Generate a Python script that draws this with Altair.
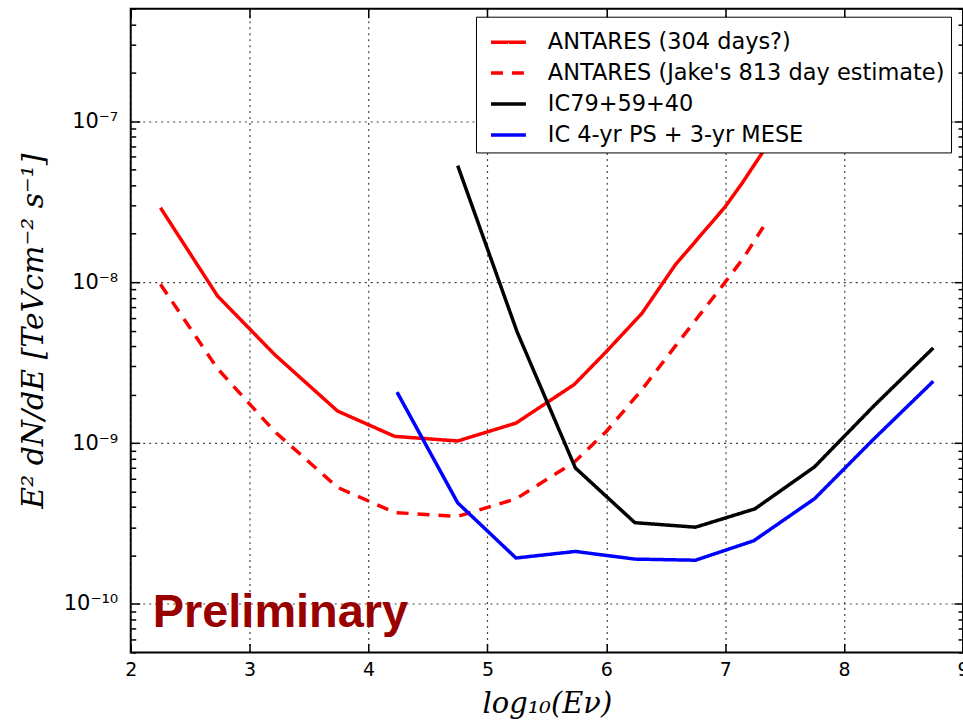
import altair as alt
import pandas as pd

# ---------------- data ----------------
series_names = ["ANTARES (304 days?)", "ANTARES (Jake's 813 day estimate)",
                "IC79+59+40", "IC 4-yr PS + 3-yr MESE"]
series_colors = ["#ff0000", "#ff0000", "#000000", "#0000ff"]
series_dash = [[1, 0], [12, 9], [1, 0], [1, 0]]

antares_x = [2.25, 2.73, 3.21, 3.74, 4.22, 4.75, 5.24, 5.73, 6.0, 6.3, 6.58, 7.0, 7.15, 7.32, 7.5]
antares_y = [2.9e-8, 8.2e-9, 3.55e-9, 1.58e-9, 1.1e-9, 1.03e-9, 1.33e-9, 2.31e-9, 3.7e-9,
             6.4e-9, 1.28e-8, 2.94e-8, 4.2e-8, 6.5e-8, 1.1e-7]

jake_x = [2.25, 2.73, 3.21, 3.74, 4.22, 4.75, 5.24, 5.73, 6.0, 6.3, 6.58, 7.0, 7.15, 7.32]
jake_y = [9.7e-9, 2.9e-9, 1.18e-9, 5.3e-10, 3.7e-10, 3.5e-10, 4.5e-10, 7.6e-10, 1.18e-9,
          2.15e-9, 4.0e-9, 1.0e-8, 1.4e-8, 2.2e-8]

ic79_x = [4.75, 5.25, 5.74, 6.24, 6.75, 7.25, 7.75, 8.25, 8.75]
ic79_y = [5.3e-8, 4.9e-9, 7.0e-10, 3.2e-10, 3.0e-10, 3.9e-10, 7.1e-10, 1.7e-9, 3.9e-9]

ic4_x = [4.24, 4.75, 5.24, 5.74, 6.24, 6.75, 7.24, 7.75, 8.25, 8.75]
ic4_y = [2.07e-9, 4.25e-10, 1.93e-10, 2.12e-10, 1.9e-10, 1.87e-10, 2.47e-10, 4.5e-10, 1.06e-9, 2.42e-9]

x_ticks = [2, 3, 4, 5, 6, 7, 8, 9]
y_decades = [-10, -9, -8, -7]
y_decade_labels = ["10⁻¹⁰", "10⁻⁹", "10⁻⁸", "10⁻⁷"]
y_minor_mult = [1, 2, 3, 4, 5, 6, 7, 8, 9]
y_domain = [5e-11, 5e-7]
x_domain = [2, 9]

prelim_x, prelim_y = [2.185], [7.2e-11]
prelim_text = ["Preliminary"]

# ---------------- build table ----------------
rows = []
for name, xs, ys in zip(series_names, [antares_x, jake_x, ic79_x, ic4_x],
                        [antares_y, jake_y, ic79_y, ic4_y]):
    for i, (xv, yv) in enumerate(zip(xs, ys)):
        rows.append({"series": name, "logE": xv, "flux": yv, "order": i})
df = pd.DataFrame(rows)

y_ticks = []
for e in range(-11, -6):
    for k in y_minor_mult:
        v = k * 10.0 ** e
        if y_domain[0] * 0.9999 <= v <= y_domain[1] * 1.0001:
            y_ticks.append(v)

W, H = 834, 645
xscale = alt.Scale(domain=x_domain, nice=False, zero=False)
yscale = alt.Scale(type="log", domain=y_domain, nice=False)

lg = "(log(datum.value)/LN10)"
is_dec = f"abs({lg} - round({lg})) < 0.001"
expo = f"round({lg})"
label_expr = is_dec + " ? (" + " : ".join(
    f"{expo} == {e} ? '{lab}'" for e, lab in zip(y_decades, y_decade_labels)) + " : '') : ''"

GRID_DASH = [2, 4]
GRID_COLOR = "#444444"

legend = alt.Legend(
    title=None, orient="none", legendX=346, legendY=8, direction="vertical",
    fillColor="white", strokeColor="black", padding=6, cornerRadius=0,
    symbolType="stroke", symbolSize=1225, symbolStrokeWidth=3.5, symbolOffset=7,
    labelFont="DejaVu Sans", labelFontSize=22.5, labelColor="black",
    labelLimit=600, labelOffset=20, rowPadding=0,
)

lines = alt.Chart(df).mark_line(strokeWidth=3.5, clip=True).encode(
    x=alt.X("logE:Q", scale=xscale, axis=alt.Axis(
        orient="bottom", values=x_ticks, format="d", labelFlush=False,
        grid=True, gridDash=GRID_DASH, gridColor=GRID_COLOR, gridWidth=1.2,
        ticks=False, tickSize=0, domain=False,
        labelFont="DejaVu Sans", labelFontSize=19, labelColor="black", labelPadding=8,
        title="log₁₀(Eν)", titleFont="DejaVu Serif", titleFontStyle="italic",
        titleFontWeight="normal", titleFontSize=29, titleColor="black",
        titleX=W / 2, titleY=60, titleBaseline="alphabetic", titleAlign="center")),
    y=alt.Y("flux:Q", scale=yscale, axis=alt.Axis(
        orient="left", values=y_ticks, labelExpr=label_expr, labelOverlap=False,
        grid=True, gridDash=GRID_DASH, gridColor=GRID_COLOR, gridWidth=1.2,
        gridOpacity={"condition": {"test": is_dec, "value": 1}, "value": 0},
        ticks=False, tickSize=0, domain=False,
        labelFont="DejaVu Sans", labelFontSize=21, labelColor="black", labelPadding=13,
        title="E² dN/dE [TeVcm⁻² s⁻¹]", titleFont="DejaVu Serif", titleFontStyle="italic",
        titleFontWeight="normal", titleFontSize=30, titleColor="black",
        titleX=-97, titleY=H / 2, titleAngle=270, titleAlign="center",
        titleBaseline="middle")),
    color=alt.Color("series:N", scale=alt.Scale(domain=series_names, range=series_colors),
                    legend=legend),
    strokeDash=alt.StrokeDash("series:N",
                              scale=alt.Scale(domain=series_names, range=series_dash),
                              legend=legend),
    order="order:Q",
)

prelim_df = pd.DataFrame({"x": prelim_x, "y": prelim_y, "t": prelim_text})
prelim = alt.Chart(prelim_df).mark_text(
    align="left", baseline="alphabetic", font="Liberation Sans", fontWeight="bold",
    fontSize=47, color="#990000"
).encode(
    x=alt.X("x:Q", scale=xscale, axis=None),
    y=alt.Y("y:Q", scale=yscale, axis=None),
    text="t:N",
)

tick_size_y = {"condition": {"test": is_dec, "value": 9}, "value": 5}
ghost = alt.Chart(df).mark_point(opacity=0)

# inward ticks: top edge (x) and right edge (y)
ticks_a = ghost.encode(
    x=alt.X("logE:Q", scale=xscale, axis=alt.Axis(
        orient="bottom", offset=-H, values=x_ticks, labels=False, grid=False,
        domain=False, ticks=True, tickSize=9, tickWidth=1.5, tickColor="black", title=None)),
    y=alt.Y("flux:Q", scale=yscale, axis=alt.Axis(
        orient="left", offset=-W, values=y_ticks, labels=False, grid=False,
        domain=False, ticks=True, tickSize=tick_size_y, tickWidth=1.5,
        tickColor="black", title=None)),
)
# inward ticks: bottom edge (x) and left edge (y)
ticks_b = ghost.encode(
    x=alt.X("logE:Q", scale=xscale, axis=alt.Axis(
        orient="top", offset=-H, values=x_ticks, labels=False, grid=False,
        domain=False, ticks=True, tickSize=9, tickWidth=1.5, tickColor="black", title=None)),
    y=alt.Y("flux:Q", scale=yscale, axis=alt.Axis(
        orient="right", offset=-W, values=y_ticks, labels=False, grid=False,
        domain=False, ticks=True, tickSize=tick_size_y, tickWidth=1.5,
        tickColor="black", title=None)),
)

chart = alt.layer(lines, prelim, ticks_a, ticks_b).resolve_axis(
    x="independent", y="independent"
).properties(
    width=W, height=H,
    autosize=alt.AutoSizeParams(type="none"),
    padding={"left": 131, "top": 8, "right": 0, "bottom": 71},
    background="white",
).configure_view(stroke="black", strokeWidth=2)

chart.save("out.html", embed_options={"renderer": "svg", "actions": False})
